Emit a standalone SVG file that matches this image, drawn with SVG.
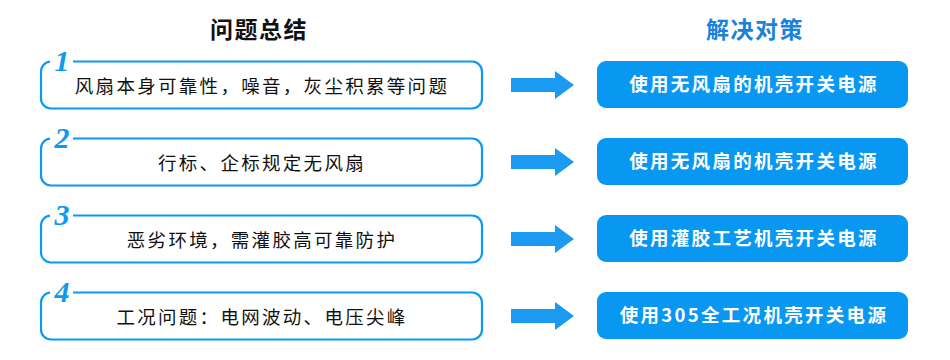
<svg xmlns="http://www.w3.org/2000/svg" width="950" height="360" viewBox="0 0 950 360">
<style>
.hd{font-family:"Noto Sans CJK SC","Noto Sans",sans-serif;font-weight:700;font-size:23px;letter-spacing:1.5px;text-anchor:middle}
.lb{fill:none;stroke:#0b99f2;stroke-width:2.2}
.gap{stroke:#ffffff;stroke-width:5}
.num{font-family:"Liberation Serif","DejaVu Serif",serif;font-weight:700;font-style:italic;font-size:30px;fill:#0b99f2;text-anchor:middle}
.lt{font-family:"Noto Sans CJK SC","Noto Sans",sans-serif;font-size:18.5px;letter-spacing:2.3px;fill:#111111;text-anchor:middle}
.rb{fill:#0898f2}
.rt{font-family:"Noto Sans CJK SC","Noto Sans",sans-serif;font-weight:700;font-size:18.5px;letter-spacing:2.3px;fill:#ffffff;text-anchor:middle}
.ar{fill:#1a9af0}
</style>
<defs>
<path id="arrow" d="M511,78 H555 V71 L574,85 L555,99 V92 H511 Z"/>
</defs>
<text class="hd" x="259" y="38" fill="#111111">问题总结</text>
<text class="hd" x="755" y="38" fill="#1a82d8">解决对策</text>

<g id="problem1">
<rect class="lb" x="41" y="61.5" width="441" height="47" rx="10"/>
<line class="gap" x1="50" y1="61.5" x2="73" y2="61.5"/>
<text class="num" x="62" y="71">1</text>
<text class="lt" x="262" y="93">风扇本身可靠性，噪音，灰尘积累等问题</text>
</g>
<g id="problem2">
<rect class="lb" x="41" y="138.5" width="441" height="47" rx="10"/>
<line class="gap" x1="50" y1="138.5" x2="73" y2="138.5"/>
<text class="num" x="62" y="148">2</text>
<text class="lt" x="262" y="170">行标、企标规定无风扇</text>
</g>
<g id="problem3">
<rect class="lb" x="41" y="215.5" width="441" height="47" rx="10"/>
<line class="gap" x1="50" y1="215.5" x2="73" y2="215.5"/>
<text class="num" x="62" y="225">3</text>
<text class="lt" x="262" y="247">恶劣环境，需灌胶高可靠防护</text>
</g>
<g id="problem4">
<rect class="lb" x="41" y="292.5" width="441" height="47" rx="10"/>
<line class="gap" x1="50" y1="292.5" x2="73" y2="292.5"/>
<text class="num" x="62" y="302">4</text>
<text class="lt" x="262" y="324">工况问题：电网波动、电压尖峰</text>
</g>

<g id="connectors">
<use href="#arrow" class="ar"/>
<use href="#arrow" class="ar" y="77"/>
<use href="#arrow" class="ar" y="154"/>
<use href="#arrow" class="ar" y="231"/>
</g>

<g id="solution1">
<rect class="rb" x="597" y="61" width="311" height="47" rx="9"/>
<text class="rt" x="754" y="91">使用无风扇的机壳开关电源</text>
</g>
<g id="solution2">
<rect class="rb" x="597" y="138" width="311" height="47" rx="9"/>
<text class="rt" x="754" y="168">使用无风扇的机壳开关电源</text>
</g>
<g id="solution3">
<rect class="rb" x="597" y="215" width="311" height="47" rx="9"/>
<text class="rt" x="754" y="245">使用灌胶工艺机壳开关电源</text>
</g>
<g id="solution4">
<rect class="rb" x="597" y="292" width="311" height="47" rx="9"/>
<text class="rt" x="754" y="322">使用305全工况机壳开关电源</text>
</g>
</svg>
